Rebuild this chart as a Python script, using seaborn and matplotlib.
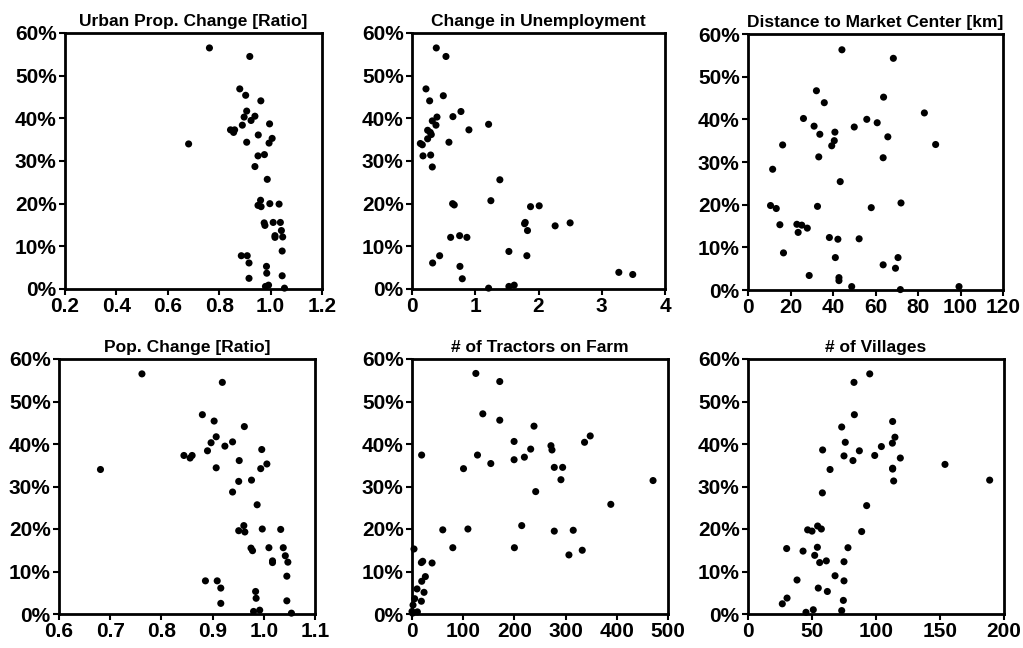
import matplotlib
matplotlib.use("Agg")
import matplotlib.pyplot as plt
import seaborn as sns
from matplotlib.ticker import PercentFormatter, FormatStrFormatter, MultipleLocator

# ---------------- data ----------------
urban_x = [0.762, 0.919, 0.880, 0.903, 0.962, 0.907, 0.897, 0.939, 0.924, 0.890, 0.996, 0.844, 0.856, 0.860, 0.952,
           1.006, 0.907, 0.994, 0.681, 0.951, 0.976, 0.939, 0.987, 0.961, 0.951, 0.963, 0.997, 1.033, 0.975, 0.978,
           1.010, 1.038, 1.042, 1.017, 1.017, 1.047, 1.045, 0.886, 0.909, 0.916, 0.984, 0.985, 0.916, 1.045, 0.980,
           0.992, 1.054]
urban_y = [56.5, 54.5, 46.9, 45.4, 44.1, 41.7, 40.3, 40.5, 39.5, 38.4, 38.7, 37.3, 36.7, 37.3, 36.1,
           35.3, 34.4, 34.2, 34.0, 31.2, 31.5, 28.7, 25.7, 20.8, 19.6, 19.3, 20.0, 19.9, 15.5, 14.9,
           15.6, 15.6, 13.7, 12.5, 12.1, 12.2, 8.9, 7.8, 7.8, 6.1, 5.3, 3.7, 2.5, 3.1, 0.6, 0.9, 0.2]

pop_x = [0.762, 0.919, 0.880, 0.903, 0.962, 0.907, 0.897, 0.939, 0.924, 0.890, 0.996, 0.844, 0.856, 0.860, 0.952,
         1.006, 0.907, 0.994, 0.681, 0.951, 0.976, 0.939, 0.987, 0.961, 0.951, 0.963, 0.997, 1.033, 0.975, 0.978,
         1.010, 1.038, 1.042, 1.017, 1.017, 1.047, 1.045, 0.886, 0.909, 0.916, 0.984, 0.985, 0.916, 1.045, 0.980,
         0.992, 1.054]
pop_y = [56.5, 54.5, 46.9, 45.4, 44.1, 41.7, 40.3, 40.5, 39.5, 38.4, 38.7, 37.3, 36.7, 37.3, 36.1,
         35.3, 34.4, 34.2, 34.0, 31.2, 31.5, 28.7, 25.7, 20.8, 19.6, 19.3, 20.0, 19.9, 15.5, 14.9,
         15.6, 15.6, 13.7, 12.5, 12.1, 12.2, 8.9, 7.8, 7.8, 6.1, 5.3, 3.7, 2.5, 3.1, 0.6, 0.9, 0.2]

unemp_x = [0.384, 0.537, 0.221, 0.279, 0.495, 0.774, 0.647, 0.395, 0.321, 0.379, 1.211, 0.900, 0.247, 0.289, 0.305,
           0.247, 0.132, 0.163, 0.584, 0.174, 0.295, 0.321, 1.389, 1.247, 0.642, 0.668, 1.874, 2.011, 1.78, 1.79,
           1.826, 2.263, 2.50, 0.611, 0.753, 0.868, 1.532, 1.816, 0.326, 0.437, 0.758, 0.795, 1.211, 1.532, 1.616,
           3.27, 3.49]
unemp_y = [56.5, 54.5, 46.9, 44.1, 45.3, 41.6, 40.4, 40.3, 39.4, 38.4, 38.6, 37.3, 37.2, 36.7, 36.2,
           35.2, 34.1, 33.8, 34.4, 31.2, 31.4, 28.6, 25.6, 20.7, 20.0, 19.7, 19.3, 19.5, 15.3, 15.6,
           13.7, 14.8, 15.5, 12.1, 12.5, 12.1, 8.8, 7.8, 6.1, 7.8, 5.3, 2.4, 0.2, 0.6, 0.9, 3.9, 3.4]

dist_x = [44.2, 68.4, 32.2, 63.8, 35.9, 83.0, 26.1, 55.9, 60.8, 31.1, 50.0, 40.9, 33.8, 65.8, 40.6,
          39.4, 16.3, 88.3, 33.3, 63.6, 11.6, 43.4, 72.0, 10.6, 13.3, 32.7, 58.0, 15.0, 23.0, 25.3,
          27.9, 23.6, 38.3, 42.3, 52.3, 16.7, 41.1, 70.6, 63.6, 69.4, 28.8, 42.8, 42.8, 48.8, 71.7, 99.3]
dist_y = [56.3, 54.3, 46.7, 45.2, 43.9, 41.5, 40.2, 40.0, 39.2, 38.4, 38.2, 37.0, 36.5, 35.9, 35.0,
          33.8, 34.0, 34.1, 31.2, 31.0, 28.3, 25.4, 20.4, 19.8, 19.1, 19.6, 19.3, 15.3, 15.4, 15.2,
          14.5, 13.5, 12.3, 11.9, 12.0, 8.7, 7.6, 7.6, 5.9, 5.1, 3.4, 2.9, 2.2, 0.8, 0.1, 0.8]

tract_x = [124.7, 171.4, 138.3, 171.4, 238.3, 348.1, 337.0, 199.4, 271.4, 273.4, 231.8, 18.8, 127.9, 219.5, 153.9,
           199.4, 100.6, 277.9, 294.2, 290.9, 470.8, 241.6, 388.3, 214.3, 60.1, 109.2, 277.9, 314.9, 79.7, 200.0,
           332.5, 306.5, 3.9, 18.3, 20.9, 39.2, 26.1, 19.0, 9.8, 23.5, 5.2, 18.3, 2.0, 0.0, 10.5, 1.0]
tract_y = [56.6, 54.7, 47.1, 45.6, 44.2, 41.9, 40.4, 40.6, 39.6, 38.6, 38.8, 37.4, 37.4, 36.9, 35.4,
           36.3, 34.2, 34.5, 34.5, 31.6, 31.4, 28.8, 25.8, 20.8, 19.8, 20.0, 19.5, 19.7, 15.6, 15.6,
           15.0, 13.9, 15.3, 12.1, 12.4, 12.0, 8.8, 7.7, 5.9, 5.1, 3.6, 3.0, 2.1, 0.6, 0.5, 0.2]

vill_x = [95.1, 82.8, 83.1, 113.0, 73.2, 114.8, 76.0, 112.8, 104.2, 58.3, 87.0, 99.0, 75.0, 119.0, 82.0,
          113.0, 113.0, 64.1, 113.8, 58.1, 92.7, 54.4, 57.3, 46.6, 50.0, 88.8, 30.2, 54.2, 78.1, 43.0,
          52.1, 56.0, 61.2, 75.0, 68.0, 38.3, 75.0, 54.9, 62.0, 30.5, 26.8, 74.5, 45.3, 51.0, 73.2,
          153.9, 188.8]
vill_y = [56.5, 54.5, 46.9, 45.3, 44.0, 41.6, 40.4, 40.2, 39.4, 38.6, 38.4, 37.3, 37.2, 36.7, 36.1,
          34.3, 34.1, 34.0, 31.3, 28.5, 25.5, 20.7, 20.0, 19.8, 19.5, 19.4, 15.4, 15.7, 15.6, 14.8,
          13.8, 12.1, 12.5, 12.3, 9.0, 8.0, 7.8, 6.1, 5.3, 3.75, 2.4, 3.2, 0.4, 1.0, 0.8,
          35.2, 31.5]

titles = ["Urban Prop. Change [Ratio]", "Change in Unemployment", "Distance to Market Center [km]",
          "Pop. Change [Ratio]", "# of Tractors on Farm", "# of Villages"]

# ---------------- style ----------------
sns.set_style("ticks")
plt.rcParams['font.family'] = ['Liberation Sans', 'DejaVu Sans']
plt.rcParams['font.weight'] = 'bold'

fig = plt.figure(figsize=(10.23, 6.48), dpi=100)
W, H = 1023.0, 648.0


def rect(x0, x1, y0, y1):
    return [x0 / W, 1 - y1 / H, (x1 - x0) / W, (y1 - y0) / H]


panels = [
    (rect(65, 322, 33, 289), urban_x, urban_y, titles[0], (0.2, 1.2), 0.2, '%.1f'),
    (rect(412, 665, 33, 289), unemp_x, unemp_y, titles[1], (0, 4), 1, '%d'),
    (rect(748, 1003, 34, 290), dist_x, dist_y, titles[2], (0, 120), 20, '%d'),
    (rect(59, 315, 359, 614), pop_x, pop_y, titles[3], (0.6, 1.1), 0.1, '%.1f'),
    (rect(412, 668, 359, 614), tract_x, tract_y, titles[4], (0, 500), 100, '%d'),
    (rect(748, 1004, 359, 614), vill_x, vill_y, titles[5], (0, 200), 50, '%d'),
]

for r, x, y, title, xlim, xstep, fmt in panels:
    ax = fig.add_axes(r)
    sns.scatterplot(x=x, y=y, ax=ax, color='black', s=26, edgecolor='none',
                    linewidth=0, clip_on=False, zorder=3)
    ax.set_xlim(*xlim)
    ax.set_ylim(0, 60)
    ax.xaxis.set_major_locator(MultipleLocator(xstep))
    ax.yaxis.set_major_locator(MultipleLocator(10))
    ax.yaxis.set_major_formatter(PercentFormatter(decimals=0))
    ax.xaxis.set_major_formatter(FormatStrFormatter(fmt))
    for sp in ax.spines.values():
        sp.set_visible(True)
        sp.set_linewidth(2)
        sp.set_color('black')
    ax.tick_params(direction='out', length=4, width=1.5, labelsize=15, pad=2, colors='black')
    for lab in ax.get_xticklabels() + ax.get_yticklabels():
        lab.set_fontweight('bold')
    ax.set_title(title, fontsize=12.5, fontweight='bold', pad=5, color='black')
    ax.set_xlabel('')
    ax.set_ylabel('')

fig.savefig("out.png", dpi=100)
